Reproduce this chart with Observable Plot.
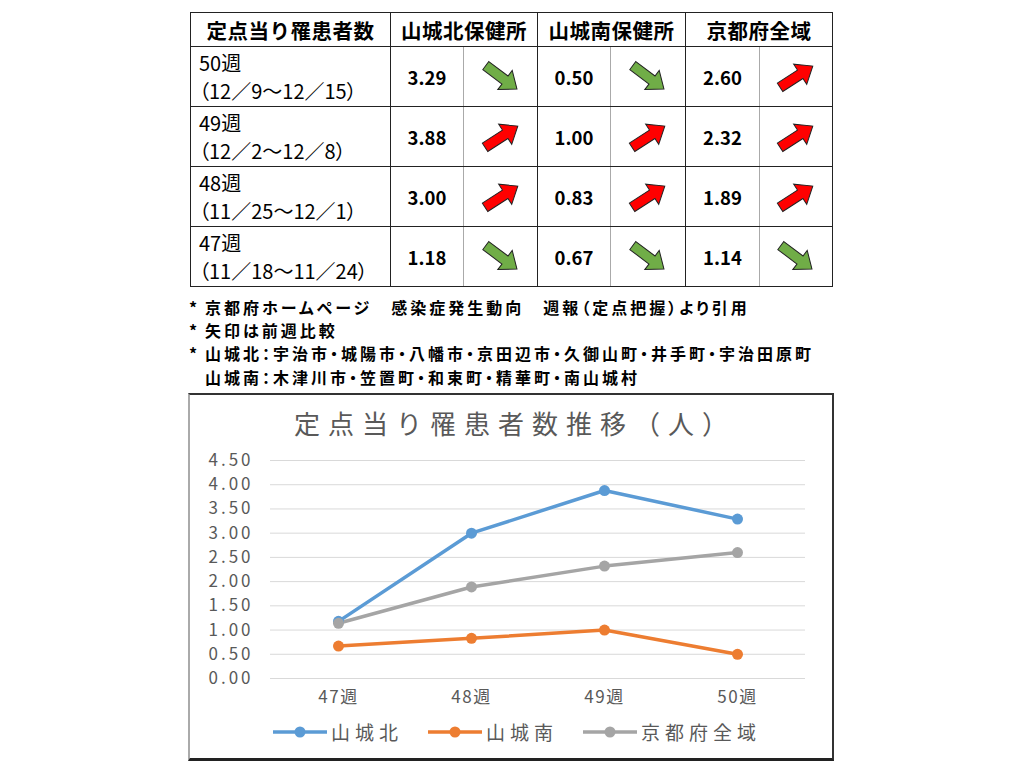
<!DOCTYPE html>
<html lang="ja">
<head>
<meta charset="utf-8">
<script src="https://cdn.jsdelivr.net/npm/d3@7"></script>
<script src="https://cdn.jsdelivr.net/npm/@observablehq/plot@0.6"></script>
<style>
  html, body { margin:0; padding:0; background:#fff; }
  body { width:1024px; height:768px; position:relative; font-family:"Noto Sans CJK JP", "Noto Sans", sans-serif; color:#000; }
  #tbl { position:absolute; left:190px; top:12px; border-collapse:collapse; table-layout:fixed; }
  #tbl td, #tbl th { border:1.5px solid #222; padding:0; }
  #tbl th { height:33px; font-size:20.5px; font-weight:700; text-align:center; letter-spacing:0.5px; }
  #tbl td { height:59px; }
  #tbl td.wk { text-align:left; padding-left:8px; font-size:20px; line-height:28px; font-weight:400; font-feature-settings:"palt"; }
  #tbl td.val { text-align:center; font-size:18.5px; font-weight:700; border-right:1px solid #aaa; }
  #tbl td.arr { text-align:center; border-left:1px solid #aaa; }
  #tbl td.arr svg { display:block; margin:auto; }
  #notes { position:absolute; left:189px; top:296px; font-size:16px; line-height:23.2px; font-weight:700; font-feature-settings:"palt"; letter-spacing:3px; white-space:nowrap; }
  #notes div { height:23.2px; }
  #notes .ast { display:inline-block; width:16px; letter-spacing:0; }
  #box { position:absolute; left:188px; top:393px; width:642px; height:363px; border-top:2px solid #333; border-right:2px solid #333; border-bottom:3px solid #222; border-left:2px solid #aaa; }
  #ctitle { position:absolute; left:4px; top:9px; width:100%; text-align:center; font-size:26px; color:#595959; letter-spacing:8px; }
  #chart { position:absolute; left:0; top:50px; }
  #legend { position:absolute; left:0; top:323px; width:100%; font-size:19px; color:#595959; }
  .lg { position:absolute; top:0; display:flex; align-items:center; letter-spacing:5px; }
</style>
</head>
<body>
<table id="tbl"></table>
<div id="notes"></div>
<div id="box">
  <div id="ctitle">定点当り罹患者数推移（人）</div>
  <div id="chart"></div>
  <div id="legend"></div>
</div>
<script>
// ---- data ----
const weekLabels = ["47週", "48週", "49週", "50週"];
const dateRanges = ["（11／18～11／24）", "（11／25～12／1）", "（12／2～12／8）", "（12／9～12／15）"];
const seriesNames = ["山城北", "山城南", "京都府全域"];
const headerLabels = ["定点当り罹患者数", "山城北保健所", "山城南保健所", "京都府全域"];
const yamashiroNorth = [1.18, 3.00, 3.88, 3.29];
const yamashiroSouth = [0.67, 0.83, 1.00, 0.50];
const kyotoAll = [1.14, 1.89, 2.32, 2.60];
const trendNorth = ["down", "up", "up", "down"];
const trendSouth = ["down", "up", "up", "down"];
const trendAll = ["down", "up", "up", "up"];
const seriesColors = ["#5b9bd5", "#ed7d31", "#a5a5a5"];
const yTicks = [0, 0.5, 1, 1.5, 2, 2.5, 3, 3.5, 4, 4.5];
const notes = [
  ["*", "京都府ホームページ　感染症発生動向　週報（定点把握）より引用"],
  ["*", "矢印は前週比較"],
  ["*", "山城北：宇治市・城陽市・八幡市・京田辺市・久御山町・井手町・宇治田原町"],
  ["", "山城南：木津川市・笠置町・和束町・精華町・南山城村"]
];

// ---- table ----
const values = [yamashiroNorth, yamashiroSouth, kyotoAll];
const trends = [trendNorth, trendSouth, trendAll];
const colW = [200, 73, 74, 73, 75, 74, 73];
function arrowSvg(dir) {
  const up = dir === "up";
  const rot = up ? -33 : 37;
  const fill = up ? "#ff0000" : "#70ad47";
  return `<svg width="50" height="44" viewBox="-25 -22 50 44"><polygon transform="rotate(${rot})" points="-19,-5 5,-5 5,-12 20,0 5,12 5,5 -19,5" fill="${fill}" stroke="#222" stroke-width="1"/></svg>`;
}
const tbl = document.getElementById("tbl");
let html = "<colgroup>" + colW.map(w => `<col style="width:${w}px">`).join("") + "</colgroup>";
html += "<tr>" + `<th>${headerLabels[0]}</th>` + headerLabels.slice(1).map(h => `<th colspan="2">${h}</th>`).join("") + "</tr>";
for (let i = weekLabels.length - 1; i >= 0; i--) {
  html += "<tr>";
  html += `<td class="wk">${weekLabels[i]}<br>${dateRanges[i]}</td>`;
  for (let s = 0; s < 3; s++) {
    html += `<td class="val">${values[s][i].toFixed(2)}</td><td class="arr">${arrowSvg(trends[s][i])}</td>`;
  }
  html += "</tr>";
}
tbl.innerHTML = html;

// ---- notes ----
document.getElementById("notes").innerHTML = notes.map(([a, n]) => `<div><span class="ast">${a}</span>${n}</div>`).join("");

// ---- chart ----
const data = weekLabels.flatMap((w, i) => [
  {week: w, series: seriesNames[0], value: yamashiroNorth[i]},
  {week: w, series: seriesNames[1], value: yamashiroSouth[i]},
  {week: w, series: seriesNames[2], value: kyotoAll[i]}
]);
const fmt = d3.format(".2f");
const chart = Plot.plot({
  width: 642,
  height: 265,
  marginLeft: 80,
  marginRight: 27,
  marginTop: 15,
  marginBottom: 32,
  style: {fontFamily: "'Noto Sans CJK JP', sans-serif", background: "transparent"},
  x: {type: "point", domain: weekLabels, padding: 0.5, label: null},
  y: {domain: [0, 4.5], label: null},
  color: {domain: seriesNames, range: seriesColors},
  marks: [
    Plot.ruleY(yTicks, {stroke: "#d9d9d9", strokeWidth: 1}),
    Plot.axisY({ticks: yTicks, tickSize: 0, tickPadding: 17, tickFormat: fmt, fill: "#595959", fontSize: 17, label: null, className: "yax"}),
    Plot.axisX({tickSize: 0, tickPadding: 12, fill: "#595959", fontSize: 17, label: null}),
    Plot.line(data, {x: "week", y: "value", z: "series", stroke: "series", strokeWidth: 3.5}),
    Plot.dot(data, {x: "week", y: "value", fill: "series", r: 5.5})
  ]
});
chart.querySelectorAll("text").forEach(t => t.setAttribute("letter-spacing", "1.5"));
chart.querySelectorAll(".yax text").forEach(t => t.setAttribute("letter-spacing", "3"));
document.getElementById("chart").appendChild(chart);

// ---- legend ----
const legendX = [82, 237, 392];
document.getElementById("legend").innerHTML = seriesNames.map((n, i) =>
  `<div class="lg" style="left:${legendX[i]}px"><svg width="56" height="14"><line x1="1" y1="7" x2="55" y2="7" stroke="${seriesColors[i]}" stroke-width="3.5"/><circle cx="28" cy="7" r="5.5" fill="${seriesColors[i]}"/></svg><span style="margin-left:3px">${n}</span></div>`
).join("");
</script>
</body>
</html>
